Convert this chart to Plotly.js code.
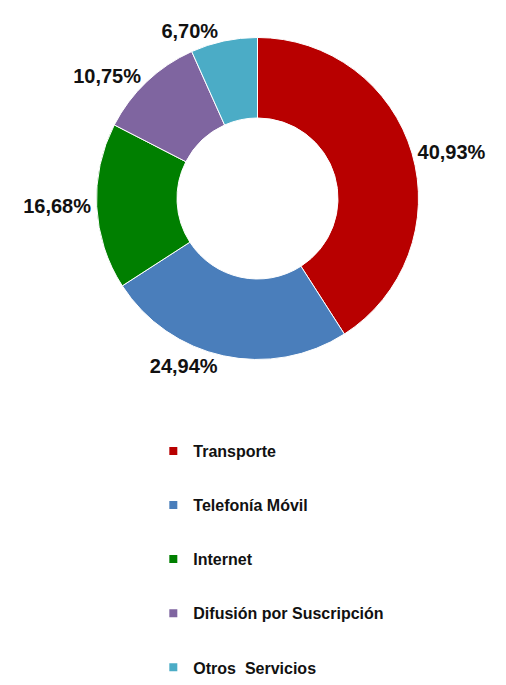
<!DOCTYPE html>
<html>
<head>
<meta charset="utf-8">
<script src="https://cdn.plot.ly/plotly-3.0.1.min.js"></script>
<style>html,body{margin:0;padding:0;background:#fff;}#chart{width:506px;height:685px;}</style>
</head>
<body>
<div id="chart"></div>
<script>
const categories = ["Transporte", "Telefonía Móvil", "Internet", "Difusión por Suscripción", "Otros  Servicios"];
const shares = [40.93, 24.94, 16.68, 10.75, 6.70];
const colors = ["#B80000", "#4A7EBB", "#007F00", "#7F65A0", "#4BACC6"];

const pie = {
  type: "pie",
  labels: categories,
  values: shares,
  sort: false,
  direction: "clockwise",
  rotation: 0,
  hole: 0.5,
  marker: {colors: colors, line: {color: "#ffffff", width: 1}},
  texttemplate: "%{value:.2f}%",
  textposition: "outside",
  outsidetextfont: {family: "Liberation Sans, Arial, sans-serif", size: 20, color: "#111111", weight: "bold"},
  domain: {x: [0.1907, 0.8271], y: [0.4752, 0.9453]},
  showlegend: false,
  hoverinfo: "none"
};

const legendTraces = categories.map((c, i) => ({
  type: "scatter",
  mode: "markers",
  x: [null], y: [null],
  name: c,
  legendgroup: "g" + i,
  marker: {symbol: "square", size: 8, color: colors[i]},
  showlegend: true,
  hoverinfo: "none"
}));

const layout = {
  width: 506, height: 685,
  margin: {l: 0, r: 0, t: 0, b: 0},
  paper_bgcolor: "#ffffff",
  plot_bgcolor: "#ffffff",
  separators: ",.",
  xaxis: {visible: false},
  yaxis: {visible: false},
  showlegend: true,
  legend: {
    x: 0.303, xanchor: "left",
    y: 0, yanchor: "bottom",
    tracegroupgap: 30.3,
    itemwidth: 30,
    font: {family: "Liberation Sans, Arial, sans-serif", size: 16, color: "#111111", weight: "bold"},
    bgcolor: "rgba(0,0,0,0)"
  }
};

Plotly.newPlot("chart", [pie].concat(legendTraces), layout, {displayModeBar: false, staticPlot: true});
</script>
</body>
</html>
